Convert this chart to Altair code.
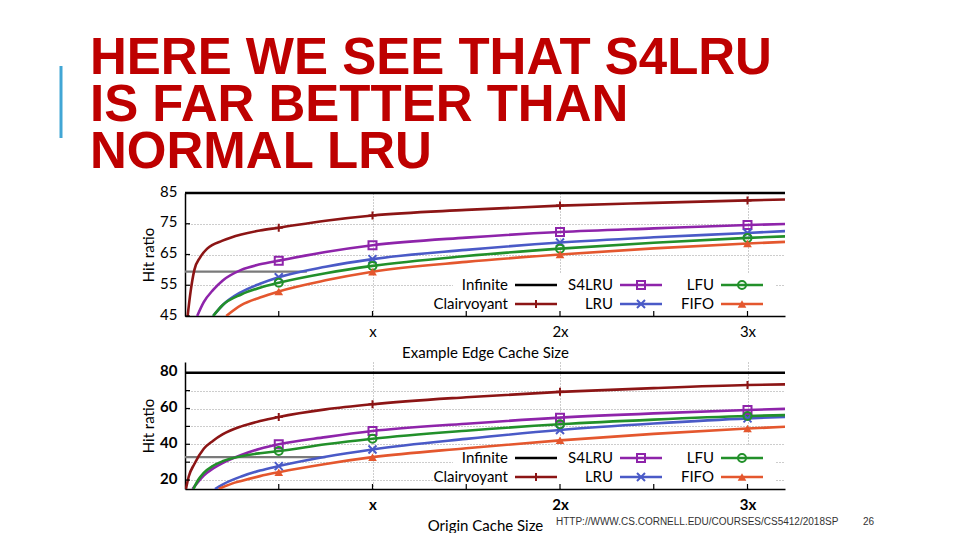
import altair as alt
import pandas as pd

# ---------------- text ----------------
TITLE_LINES = ["HERE WE SEE THAT S4LRU", "IS FAR BETTER THAN", "NORMAL LRU"]
FOOTER_URL = "HTTP://WWW.CS.CORNELL.EDU/COURSES/CS5412/2018SP"
PAGE_NUMBER = "26"

# ---------------- series ----------------
SERIES = ["Infinite", "Clairvoyant", "S4LRU", "LRU", "LFU", "FIFO"]
COLORS = ["#000000", "#8C1515", "#8E24AA", "#4A5AC7", "#22902A", "#E4572E"]
PLUS = "M-1,0L1,0M0,-1L0,1"
XMARK = "M-1,-1L1,1M-1,1L1,-1"
SHAPES = [PLUS, "square", XMARK, "circle", "triangle-up"]

X_DOMAIN = [0, 3.2]
X_LABEL_VALUES = [1, 2, 3]
X_TICKS = [0.5, 1, 1.5, 2, 2.5, 3]
MARKER_X = [0.5, 1, 2, 3]

# ---------------- top panel: Example Edge Cache Size ----------------
EDGE_X_TITLE = "Example Edge Cache Size"
EDGE_Y_DOMAIN = [45, 85]
EDGE_Y_LABELS = [45, 55, 65, 75, 85]
EDGE_Y_TICKS = [45, 55, 65, 75, 85]
EDGE_INFINITE = 85
EDGE_CURRENT = 59.4
EDGE_CURRENT_X = [0, 0.65]

edge_clair_x = [0.014, 0.03, 0.05, 0.08, 0.12, 0.2, 0.3, 0.4, 0.5, 0.75, 1, 1.5, 2, 2.5, 3, 3.2]
edge_clair_y = [45, 53, 60, 64, 67, 69.5, 71.5, 72.8, 73.7, 76, 77.7, 79.5, 80.9, 81.8, 82.6, 82.9]
edge_s4_x = [0.065, 0.1, 0.15, 0.2, 0.3, 0.4, 0.5, 0.75, 1, 1.5, 2, 2.5, 3, 3.2]
edge_s4_y = [45, 49.5, 53.5, 56.5, 60, 61.8, 63, 65.8, 68, 70.5, 72.3, 73.5, 74.6, 74.9]
edge_lru_x = [0.15, 0.2, 0.3, 0.4, 0.5, 0.75, 1, 1.5, 2, 2.5, 3, 3.2]
edge_lru_y = [45, 48.5, 52.8, 55.5, 57.6, 61, 63.5, 66.5, 68.9, 70.6, 72, 72.6]
edge_lfu_x = [0.15, 0.2, 0.3, 0.4, 0.5, 0.75, 1, 1.5, 2, 2.5, 3, 3.2]
edge_lfu_y = [45, 48.5, 52, 54.2, 55.8, 58.9, 61.3, 64.5, 66.9, 68.8, 70.4, 70.9]
edge_fifo_x = [0.22, 0.3, 0.4, 0.5, 0.75, 1, 1.5, 2, 2.5, 3, 3.2]
edge_fifo_y = [45, 48.5, 51, 53, 56.6, 59.4, 62.6, 65, 67, 68.6, 69.1]

# ---------------- bottom panel: Origin Cache Size ----------------
ORIGIN_X_TITLE = "Origin Cache Size"
ORIGIN_Y_DOMAIN = [15, 86]
ORIGIN_Y_LABELS = [20, 40, 60, 80]
ORIGIN_Y_TICKS = [20, 30, 40, 50, 60, 70, 80]
ORIGIN_INFINITE = 80
ORIGIN_CURRENT = 32.8
ORIGIN_CURRENT_X = [0, 0.75]

origin_clair_x = [0.005, 0.02, 0.05, 0.1, 0.15, 0.2, 0.3, 0.4, 0.5, 0.75, 1, 1.5, 2, 2.5, 3, 3.2]
origin_clair_y = [15, 22, 29, 37.5, 42, 45.5, 50, 53, 55.3, 59.5, 62.4, 66.3, 69.3, 71.4, 73.1, 73.5]
origin_s4_x = [0.04, 0.07, 0.1, 0.15, 0.2, 0.3, 0.4, 0.5, 0.75, 1, 1.5, 2, 2.5, 3, 3.2]
origin_s4_y = [15, 19, 22.5, 26.5, 29.5, 34, 37.5, 40, 44, 47.4, 51.5, 54.9, 57.3, 59.2, 59.8]
origin_lru_x = [0.16, 0.2, 0.3, 0.4, 0.5, 0.75, 1, 1.5, 2, 2.5, 3, 3.2]
origin_lru_y = [15, 17.5, 22, 25.3, 27.8, 33, 37.1, 43, 48, 51.6, 54.5, 55.3]
origin_lfu_x = [0.045, 0.07, 0.1, 0.15, 0.2, 0.3, 0.4, 0.5, 0.75, 1, 1.5, 2, 2.5, 3, 3.2]
origin_lfu_y = [15, 20, 24, 28, 30.5, 33.3, 35, 36.2, 40, 43.1, 47.6, 51.2, 53.8, 55.8, 56.3]
origin_fifo_x = [0.18, 0.25, 0.3, 0.4, 0.5, 0.75, 1, 1.5, 2, 2.5, 3, 3.2]
origin_fifo_y = [15, 18, 19.5, 22.2, 24.4, 29, 32.8, 37.8, 42.2, 45.8, 48.8, 49.8]

# ---------------- layout (pixels, relative to each plot area) ----------------
W = 600
TOP_H = 123
BOT_H = 127
FONT = "Lato"
LEG_COL_RIGHT = [323, 428, 529]
LINE_W = 2.6


def build_panel(curves, infinite, cur_y, cur_x, y_dom, y_labels, y_ticks, H,
                x_title, weight, leg_rows, extras):
    rows = []
    for s, (xs, ys) in curves.items():
        for x, y in zip(xs, ys):
            rows.append({"series": s, "x": x, "y": y})
    df = pd.DataFrame(rows)
    mk = df[df["x"].isin(MARKER_X)]

    xs_ = alt.Scale(domain=X_DOMAIN, nice=False, zero=False)
    ys_ = alt.Scale(domain=y_dom, nice=False, zero=False)
    x_axis = alt.Axis(values=X_LABEL_VALUES, title=x_title,
                      labelExpr="datum.value == 1 ? 'x' : datum.value + 'x'",
                      labelFont=FONT, labelFontSize=15, labelFontWeight=weight,
                      labelColor="black", labelPadding=8, labelBaseline="top",
                      ticks=False, tickSize=0, domainColor="black", domainWidth=1.5,
                      grid=True, gridColor="#9a9a9a", gridDash=[1, 2], gridWidth=1,
                      titleFont=FONT, titleFontSize=15, titleFontWeight="normal",
                      titleColor="black", titleY=36, titleBaseline="middle")
    label_list = ",".join(str(v) for v in y_labels)
    y_axis = alt.Axis(values=y_ticks, title="Hit ratio",
                      labelExpr=f"indexof([{label_list}], datum.value) >= 0 ? datum.label : ''",
                      labelFont=FONT, labelFontSize=15, labelFontWeight=weight,
                      labelColor="black", labelPadding=8, labelBaseline="middle",
                      labelOffset=-2,
                      ticks=False, tickSize=0, domainColor="black", domainWidth=1.5,
                      grid=True, gridColor="#9a9a9a", gridDash=[1, 2], gridWidth=1,
                      titleFont=FONT, titleFontSize=15, titleFontWeight="normal",
                      titleColor="black", titleAngle=-90, titleX=-37, titleY=H / 2,
                      titleAlign="center", titleBaseline="middle")
    X = alt.X("x:Q", scale=xs_, axis=x_axis)
    Y = alt.Y("y:Q", scale=ys_, axis=y_axis)
    color = alt.Color("series:N", scale=alt.Scale(domain=SERIES, range=COLORS), legend=None)
    shape = alt.Shape("series:N", scale=alt.Scale(domain=SERIES[1:], range=SHAPES), legend=None)

    lines = alt.Chart(df).mark_line(interpolate="monotone", strokeWidth=LINE_W, clip=True).encode(
        x=X, y=Y, color=color, detail="series:N")

    ref = pd.DataFrame({"x": [X_DOMAIN[0], cur_x[0]], "x2": [X_DOMAIN[1], cur_x[1]],
                        "y": [infinite, cur_y], "kind": ["inf", "cur"]})
    inf_rule = alt.Chart(ref[ref.kind == "inf"]).mark_rule(color="black", strokeWidth=LINE_W).encode(
        x=X, x2="x2:Q", y=Y)
    cur_rule = alt.Chart(ref[ref.kind == "cur"]).mark_rule(color="#7a7a7a", strokeWidth=2.2).encode(
        x=X, x2="x2:Q", y=Y)

    box = alt.Chart(pd.DataFrame({"a": [0]})).mark_rect(color="white").encode(
        x=alt.value(268), x2=alt.value(590), y=alt.value(leg_rows[0] - 12), y2=alt.value(H - 1))

    pts_open = alt.Chart(mk[mk.series != "FIFO"]).mark_point(filled=False, strokeWidth=2, size=64, opacity=1).encode(
        x=X, y=Y, color=color, shape=shape)
    pts_fifo = alt.Chart(mk[mk.series == "FIFO"]).mark_point(filled=True, size=75, opacity=1).encode(
        x=X, y=Y, color=color, shape=shape)

    ytk = pd.DataFrame({"y": y_ticks})
    ytick_rules = alt.Chart(ytk).mark_rule(color="black", strokeWidth=1.2).encode(
        y=Y, x=alt.value(0), x2=alt.value(5))
    xtk = pd.DataFrame({"x": X_TICKS})
    xtick_rules = alt.Chart(xtk).mark_rule(color="black", strokeWidth=1.2).encode(
        x=X, y=alt.value(H), y2=alt.value(H - 5))

    # legend
    leg = []
    for i, s in enumerate(SERIES):
        col, row = i // 2, i % 2
        r = LEG_COL_RIGHT[col]
        leg.append({"series": s, "lx": r, "l1": r + 7, "l2": r + 49, "mx": r + 28,
                    "ly": leg_rows[row]})
    leg = pd.DataFrame(leg)
    LX = lambda f: alt.X(f, scale=None, axis=None)
    LY = alt.Y("ly:Q", scale=None, axis=None)
    leg_text = alt.Chart(leg).mark_text(align="right", baseline="middle", font=FONT,
                                        fontSize=15, color="black").encode(
        x=LX("lx:Q"), y=LY, text="series:N")
    leg_line = alt.Chart(leg).mark_rule(strokeWidth=LINE_W).encode(
        x=LX("l1:Q"), x2="l2:Q", y=LY, color=color)
    leg_open = alt.Chart(leg[~leg.series.isin(["Infinite", "FIFO"])]).mark_point(
        filled=False, strokeWidth=2, size=64, opacity=1).encode(
        x=LX("mx:Q"), y=LY, color=color, shape=shape)
    leg_fifo = alt.Chart(leg[leg.series == "FIFO"]).mark_point(filled=True, size=75, opacity=1).encode(
        x=LX("mx:Q"), y=LY, color=color, shape=shape)

    layers = [box, cur_rule, inf_rule, lines, pts_open, pts_fifo, ytick_rules, xtick_rules,
              leg_line, leg_open, leg_fifo, leg_text] + extras
    return alt.layer(*layers).properties(width=W, height=H)


one = pd.DataFrame({"a": [0]})
anchor = alt.Chart(one).mark_rule(color="white", strokeWidth=1).encode(
    x=alt.value(-176), x2=alt.value(-175), y=alt.value(-184))
bar = alt.Chart(one).mark_rule(color="#41A6D5", strokeWidth=3).encode(
    x=alt.value(-124), y=alt.value(-127), y2=alt.value(-55))
title = alt.Chart(one).mark_text(align="left", baseline="alphabetic", font="Liberation Sans",
                                 fontSize=51, fontWeight="bold", color="#BE0000",
                                 lineHeight=47).encode(
    x=alt.value(-95), y=alt.value(-119), text=alt.value(TITLE_LINES))

footer = alt.Chart(one).mark_text(align="left", baseline="alphabetic", font="Liberation Sans",
                                  fontSize=10, color="#333333").encode(
    x=alt.value(371), y=alt.value(163), text=alt.value(FOOTER_URL))
page = alt.Chart(one).mark_text(align="left", baseline="alphabetic", font="Liberation Sans",
                                fontSize=10, color="#333333").encode(
    x=alt.value(678), y=alt.value(163), text=alt.value(PAGE_NUMBER))

edge_curves = {
    "Clairvoyant": (edge_clair_x, edge_clair_y),
    "S4LRU": (edge_s4_x, edge_s4_y),
    "LRU": (edge_lru_x, edge_lru_y),
    "LFU": (edge_lfu_x, edge_lfu_y),
    "FIFO": (edge_fifo_x, edge_fifo_y),
}
origin_curves = {
    "Clairvoyant": (origin_clair_x, origin_clair_y),
    "S4LRU": (origin_s4_x, origin_s4_y),
    "LRU": (origin_lru_x, origin_lru_y),
    "LFU": (origin_lfu_x, origin_lfu_y),
    "FIFO": (origin_fifo_x, origin_fifo_y),
}

top = build_panel(edge_curves, EDGE_INFINITE, EDGE_CURRENT, EDGE_CURRENT_X, EDGE_Y_DOMAIN,
                  EDGE_Y_LABELS, EDGE_Y_TICKS, TOP_H, EDGE_X_TITLE, "normal", [92, 111],
                  [anchor, bar, title])
bottom = build_panel(origin_curves, ORIGIN_INFINITE, ORIGIN_CURRENT, ORIGIN_CURRENT_X, ORIGIN_Y_DOMAIN,
                     ORIGIN_Y_LABELS, ORIGIN_Y_TICKS, BOT_H, ORIGIN_X_TITLE, "bold", [96, 115],
                     [footer, page])

chart = alt.vconcat(top, bottom, spacing=46, bounds="flush").properties(
    padding=0, background="white"
).configure_view(stroke=None)

chart.save("out.html", embed_options={"renderer": "svg", "actions": False})
